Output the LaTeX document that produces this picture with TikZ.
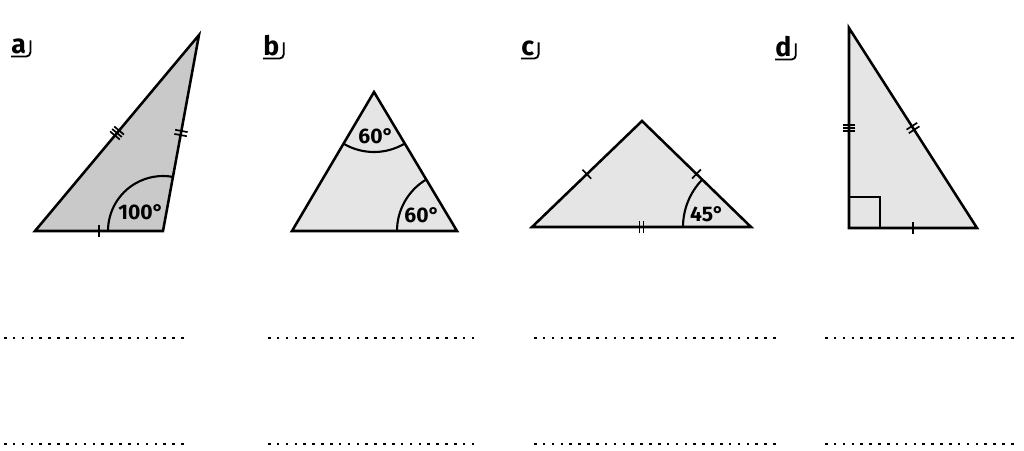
\documentclass[tikz,border=0pt]{standalone}
\usepackage{fontspec}
\setsansfont{Fira Sans}
\usetikzlibrary{calc,decorations.markings}

\begin{document}
\begin{tikzpicture}[x=0.025cm,y=0.025cm,
  tri/.style={draw=black, fill=#1, line width=1.8pt, line join=miter},
  ang/.style={line width=1.5pt},
  deg/.style={font=\sffamily\bfseries\fontsize{15}{17}\selectfont, inner sep=0pt},
  lbl/.style={font=\sffamily\bfseries\fontsize{19}{22}\selectfont, inner sep=0pt, anchor=base west},
  hk/.style={line width=1.3pt, rounded corners=3pt},
  tk/.style={postaction={decorate,decoration={markings,
      mark=at position .5 with {\foreach \s in {#1}{\draw[line width=1.2pt] (\s pt,-4.5pt) -- (\s pt,4.5pt);}}}}},
  blank/.style={line width=1.8pt, dash pattern=on 1.8pt off 4.5pt}
]
\useasboundingbox (0,0) rectangle (1024,450);

% a) obtuse
\coordinate (aL) at (35,219);
\coordinate (aR) at (163,219);
\coordinate (aT) at (199,415);
\draw[tri=gray!42] (aL) -- (aR) -- (aT) -- cycle;
\draw[ang] (aR) ++(180:55) arc[start angle=180, end angle=79.6, radius=55];
\path[tk={0}] (aL) -- (aR);
\path[tk={-2.3,0,2.3}] (aL) -- (aT);
\path[tk={-1.5,1.5}] (aR) -- (aT);
\node[deg] (angA) at (141,238) {100°};
\node[lbl] (lblA) at (11,397) {a};
\draw[hk] ([yshift=-2.5pt]lblA.base west) -| ([xshift=3pt,yshift=9pt]lblA.base east);

% b) equilateral
\coordinate (bL) at (292,219);
\coordinate (bR) at (457,219);
\coordinate (bT) at (374,358);
\draw[tri=gray!20] (bL) -- (bR) -- (bT) -- cycle;
\draw[ang] (bT) ++(239.5:60) arc[start angle=239.5, end angle=300.8, radius=60];
\draw[ang] (bR) ++(120.8:60) arc[start angle=120.8, end angle=180, radius=60];
\node[deg] (angB1) at (376,314) {60°};
\node[deg] (angB2) at (422,235) {60°};
\node[lbl] (lblB) at (263,395) {b};
\draw[hk] ([yshift=-2.5pt]lblB.base west) -| ([xshift=3pt,yshift=9pt]lblB.base east);

% c) isosceles
\coordinate (cL) at (532,223);
\coordinate (cR) at (751,223);
\coordinate (cT) at (642,329);
\draw[tri=gray!20] (cL) -- (cR) -- (cT) -- cycle;
\draw[ang] (cR) ++(135.8:68) arc[start angle=135.8, end angle=180, radius=68];
\path[tk={-1.5,1.5}] (cL) -- (cR);
\path[tk={0}] (cL) -- (cT);
\path[tk={0}] (cT) -- (cR);
\node[deg] (angC) at (707,236) {45°};
\node[lbl] (lblC) at (521,395) {c};
\draw[hk] ([yshift=-2.5pt]lblC.base west) -| ([xshift=3pt,yshift=9pt]lblC.base east);

% d) right
\coordinate (dL) at (849,222);
\coordinate (dR) at (977,222);
\coordinate (dT) at (849,422);
\draw[tri=gray!20] (dL) -- (dR) -- (dT) -- cycle;
\draw[ang] (dL) rectangle ++(31,31);
\path[tk={0}] (dL) -- (dR);
\path[tk={-2.3,0,2.3}] (dL) -- (dT);
\path[tk={-1.5,1.5}] (dT) -- (dR);
\node[lbl] (lblD) at (775,394) {d};
\draw[hk] ([yshift=-2.5pt]lblD.base west) -| ([xshift=3pt,yshift=9pt]lblD.base east);

% answer lines
\foreach \xa/\xb in {4/190,268/475,534/781,825/1019}
  \foreach \yy in {112,6}
    \draw[blank] (\xa,\yy) -- (\xb,\yy);
\end{tikzpicture}
\end{document}
